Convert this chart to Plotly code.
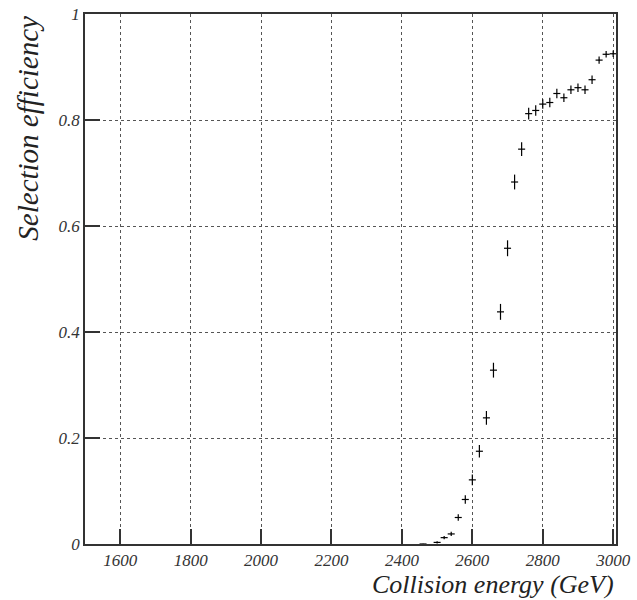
import plotly.graph_objects as go

energy = [2460, 2500, 2520, 2540, 2560, 2580, 2600, 2620, 2640, 2660, 2680, 2700,
          2720, 2740, 2760, 2780, 2800, 2820, 2840, 2860, 2880, 2900, 2920, 2940,
          2960, 2980, 3000]
efficiency = [0.0, 0.003, 0.012, 0.019, 0.050, 0.084, 0.121, 0.175, 0.238, 0.328,
              0.438, 0.558, 0.683, 0.745, 0.812, 0.818, 0.830, 0.833, 0.850, 0.842,
              0.857, 0.861, 0.857, 0.876, 0.913, 0.924, 0.925]
eff_err = [0.0, 0.002, 0.003, 0.004, 0.006, 0.008, 0.010, 0.012, 0.013, 0.014,
           0.015, 0.015, 0.014, 0.013, 0.011, 0.010, 0.009, 0.009, 0.009, 0.008,
           0.008, 0.008, 0.008, 0.008, 0.007, 0.006, 0.006]
bin_half_width = 10

x_ticks = [1600, 1800, 2000, 2200, 2400, 2600, 2800, 3000]
x_tick_labels = ["1600", "1800", "2000", "2200", "2400", "2600", "2800", "3000"]
y_ticks = [0, 0.2, 0.4, 0.6, 0.8, 1]
y_tick_labels = ["0", "0.2", "0.4", "0.6", "0.8", "1"]

x_title = "Collision energy (GeV)"
y_title = "Selection efficiency"

fig = go.Figure()
fig.add_trace(go.Scatter(
    x=energy, y=efficiency, mode="markers",
    marker=dict(size=1, color="black"),
    error_x=dict(type="constant", value=bin_half_width, width=0, thickness=1.2, color="black"),
    error_y=dict(type="data", array=eff_err, width=0, thickness=1.2, color="black"),
    showlegend=False,
))

font_family = "Liberation Serif"
axis_common = dict(
    showline=True, linecolor="#333", linewidth=1.5, mirror=True,
    showgrid=True, gridcolor="#555", griddash="dot", gridwidth=1,
    zeroline=False, ticks="inside", ticklen=15, tickcolor="#333", tickwidth=1.5,
    tickfont=dict(family=font_family, size=17, color="#333", style="italic"),
    automargin=False,
)

fig.update_xaxes(range=[1500, 3008], tickvals=x_ticks, ticktext=x_tick_labels, **axis_common)
fig.update_yaxes(range=[0, 1], tickvals=y_ticks, ticktext=y_tick_labels, **axis_common)

fig.add_annotation(
    text=x_title, xref="paper", yref="paper", x=1.0, y=-0.045,
    xanchor="right", yanchor="top", showarrow=False,
    font=dict(family=font_family, size=26, color="#222", style="italic"),
)
fig.add_annotation(
    text=y_title, xref="paper", yref="paper", x=-0.075, y=1.0,
    xanchor="right", yanchor="top", textangle=-90, showarrow=False,
    font=dict(family=font_family, size=29, color="#222", style="italic"),
)

fig.update_layout(
    width=637, height=600,
    margin=dict(l=85, r=21, t=14, b=56, autoexpand=False),
    paper_bgcolor="white", plot_bgcolor="white",
)

fig.write_html("out.html", config={"displayModeBar": False},
               post_script="document.body.style.margin='0';document.body.style.overflow='hidden';")
